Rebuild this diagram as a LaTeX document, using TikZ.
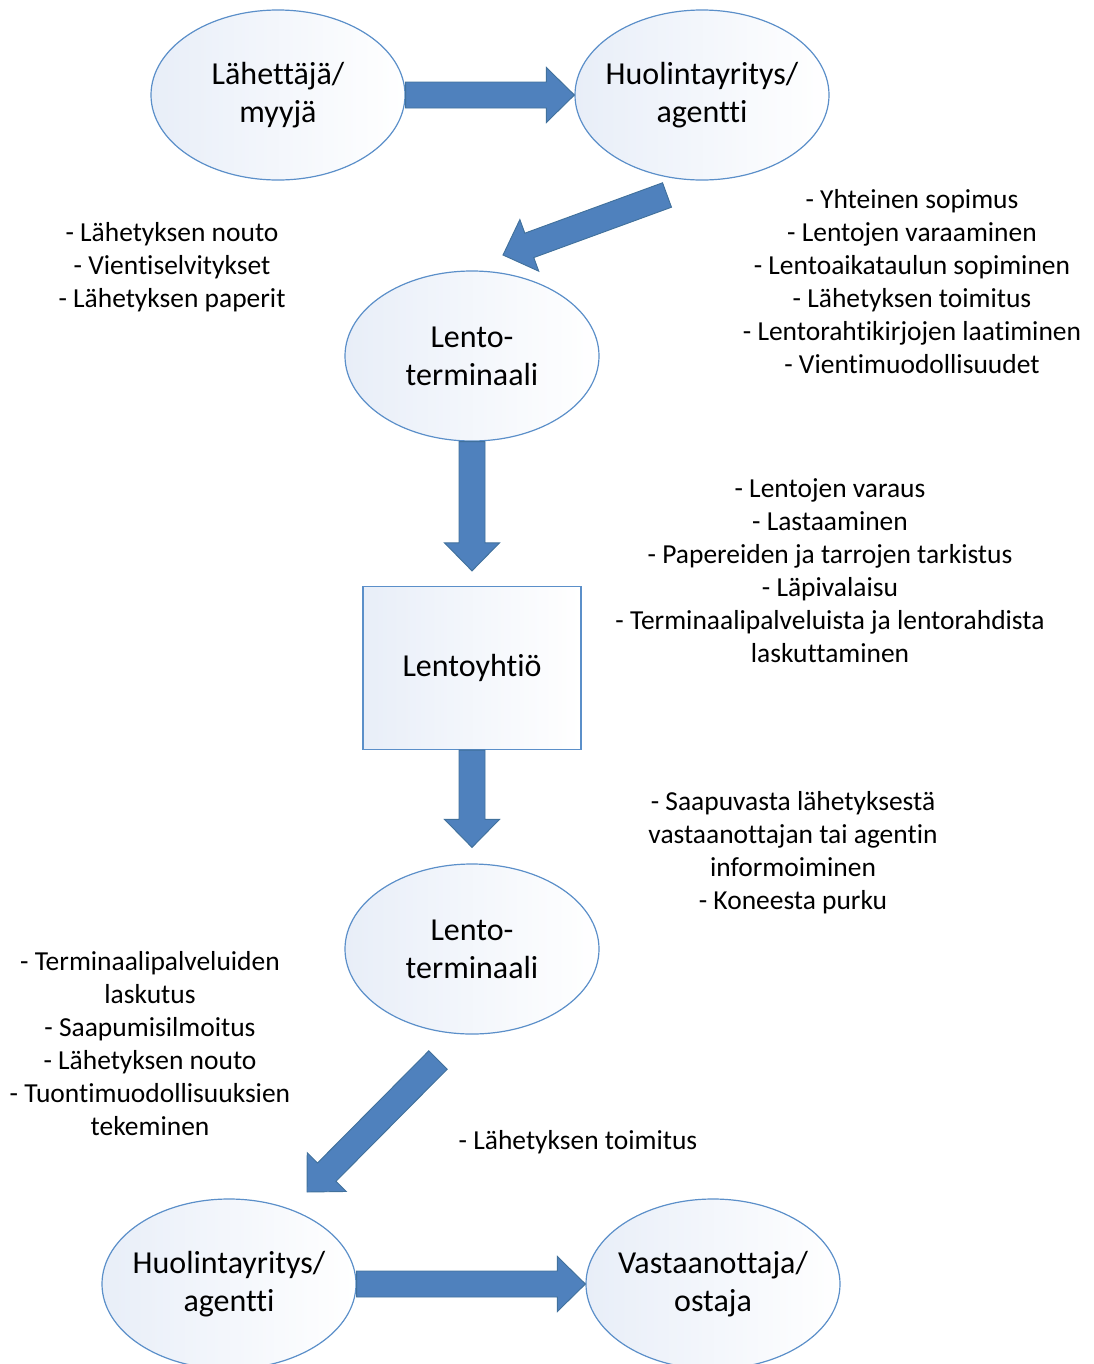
\documentclass[tikz,border=0pt]{standalone}
\usepackage{fontspec}
\setmainfont{Carlito}[Ligatures=NoCommon]
\usetikzlibrary{shapes.geometric, positioning, calc}

\definecolor{arrowfill}{RGB}{79,129,189}
\definecolor{arrowline}{RGB}{65,113,156}
\definecolor{nodeline}{RGB}{91,143,201}
\definecolor{nodefill}{RGB}{232,238,248}

\begin{document}
\begin{tikzpicture}[
    on grid,
    every node/.style={font=\fontsize{20.6}{24.75}\selectfont},
    party/.style={ellipse, draw=nodeline, line width=0.9pt, left color=nodefill, right color=white,
        minimum width=190.5pt, minimum height=127.5pt, inner xsep=-10pt, inner ysep=0pt, align=center,
        font=\fontsize{24}{28.5}\selectfont},
    company/.style={rectangle, draw=nodeline, line width=0.9pt, left color=nodefill, right color=white,
        minimum width=163.5pt, minimum height=122.25pt, inner sep=0pt, align=center,
        font=\fontsize{24}{28.5}\selectfont},
    notes/.style={align=center, inner sep=0pt},
    blockarrow/.style={draw=arrowline, fill=arrowfill, line width=0.7pt,
        to path={($(\tikztostart)!9.75pt!90:(\tikztotarget)$)
            -- ($($(\tikztotarget)!21pt!(\tikztostart)$)!9.75pt!-90:(\tikztostart)$)
            -- ($($(\tikztotarget)!21pt!(\tikztostart)$)!20.6pt!-90:(\tikztostart)$)
            -- (\tikztotarget)
            -- ($($(\tikztotarget)!21pt!(\tikztostart)$)!20.6pt!90:(\tikztostart)$)
            -- ($($(\tikztotarget)!21pt!(\tikztostart)$)!9.75pt!90:(\tikztostart)$)
            -- ($(\tikztostart)!9.75pt!-90:(\tikztotarget)$)
            -- cycle}}
]
   \path[use as bounding box, clip] (0,0) rectangle (820.5pt,-1023pt);

   % Parties
   \node[party] (sender) at (208.5pt,-71.25pt) {Lähettäjä/\\myyjä};
   \node[party] (forwarder) [right=318pt of sender] {Huolintayritys/\\agentti};
   \node[party] (terminal1) [below left=195.75pt and 172.5pt of forwarder] {Lento-\\terminaali};
   \node[company] (airline) [below=234pt of terminal1] {Lentoyhtiö};
   \node[party] (terminal2) [below=210.75pt of airline] {Lento-\\terminaali};
   \node[party] (agent) [below left=251.25pt and 182.25pt of terminal2] {Huolintayritys/\\agentti};
   \node[party] (receiver) [right=363pt of agent] {Vastaanottaja/\\ostaja};

   % Tasks
   \node[notes] (notes1) [below left=129pt and 79.5pt of sender]
      {- Lähetyksen nouto\\- Vientiselvitykset\\- Lähetyksen paperit};
   \node[notes] (notes2) [below right=140.25pt and 157.5pt of forwarder]
      {- Yhteinen sopimus\\- Lentojen varaaminen\\- Lentoaikataulun sopiminen\\- Lähetyksen toimitus\\- Lentorahtikirjojen laatiminen\\- Vientimuodollisuudet};
   \node[notes] (notes3) [above right=72.75pt and 268.5pt of airline]
      {- Lentojen varaus\\- Lastaaminen\\- Papereiden ja tarrojen tarkistus\\- Läpivalaisu\\- Terminaalipalveluista ja lentorahdista\\laskuttaminen};
   \node[notes] (notes4) [above right=72pt and 240.75pt of terminal2]
      {- Saapuvasta lähetyksestä\\vastaanottajan tai agentin\\informoiminen\\- Koneesta purku};
   \node[notes] (notes5) [below left=71.25pt and 241.5pt of terminal2]
      {- Terminaalipalveluiden\\laskutus\\- Saapumisilmoitus\\- Lähetyksen nouto\\- Tuontimuodollisuuksien\\tekeminen};
   \node[notes] (notes6) [below right=144.75pt and 79.5pt of terminal2] {- Lähetyksen toimitus};

   % Arrow ends
   \coordinate[below left=75pt and 26.25pt of forwarder] (a2tail);
   \coordinate[above right=75.75pt and 23.25pt of terminal1] (a2tip);
   \coordinate[above=11.25pt of airline.north] (a3tip);
   \coordinate[above=12pt of terminal2.north] (a4tip);
   \coordinate[below left=83.25pt and 25.5pt of terminal2] (a5tail);
   \coordinate[above right=69pt and 58.5pt of agent] (a5tip);

   % Flow
   \path
   (sender.east) edge[blockarrow] (forwarder.west)
   (a2tail) edge[blockarrow] (a2tip)
   (terminal1.south) edge[blockarrow] (a3tip)
   (airline.south) edge[blockarrow] (a4tip)
   (a5tail) edge[blockarrow] (a5tip)
   (agent.east) edge[blockarrow] (receiver.west);
\end{tikzpicture}
\end{document}
